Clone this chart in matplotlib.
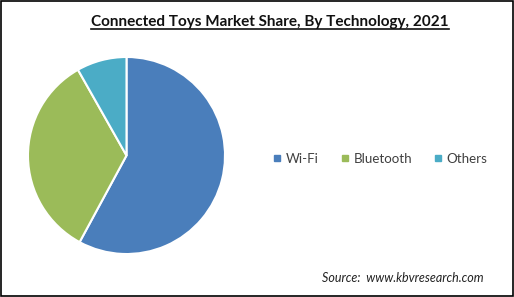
import matplotlib.pyplot as plt
from matplotlib.lines import Line2D

technologies = ["Wi-Fi", "Bluetooth", "Others"]
shares = [57.9, 33.9, 8.2]
colors = ["#4A7EBB", "#9BBB59", "#4BACC6"]

plt.rcParams['font.family'] = ['Lato', 'DejaVu Sans']

fig = plt.figure(figsize=(5.14, 2.97), dpi=100)

# pie area
ax = fig.add_axes([27 / 514, 42 / 297, 199 / 514, 199 / 297])
ax.pie(shares, colors=colors, startangle=90, counterclock=False,
       wedgeprops=dict(edgecolor="white", linewidth=1.5))
ax.set_xlim(-1.01, 1.01)
ax.set_ylim(-1.01, 1.01)
ax.set_aspect("equal")

# title with underline
title = fig.text(0.525, 0.925, "Connected Toys Market Share, By Technology, 2021",
                 ha="center", va="center", fontsize=11.0, fontweight="bold",
                 color="#111111")
fig.canvas.draw()
bb = title.get_window_extent().transformed(fig.transFigure.inverted())
fig.add_artist(Line2D([bb.x0, bb.x1], [bb.y0 + 0.002, bb.y0 + 0.002],
                      transform=fig.transFigure, color="#111111", linewidth=1.2))

# legend
handles = [Line2D([], [], marker="s", linestyle="none", markersize=5,
                  color=c) for c in colors]
fig.legend(handles, technologies, loc="center", bbox_to_anchor=(0.737, 0.465),
           ncol=3, frameon=False, fontsize=9.6, handletextpad=0.1,
           columnspacing=1.4, handlelength=1.1, labelcolor="#404040")

# source
fig.text(0.626, 0.065, "Source:  www.kbvresearch.com", fontsize=9,
         style="italic", color="#222222", va="center")

# frame around the image
fig.add_artist(plt.Rectangle((0.001, 0.002), 0.997, 0.995, transform=fig.transFigure,
                             fill=False, edgecolor="black", linewidth=1.2))

fig.savefig("out.png", dpi=100)
